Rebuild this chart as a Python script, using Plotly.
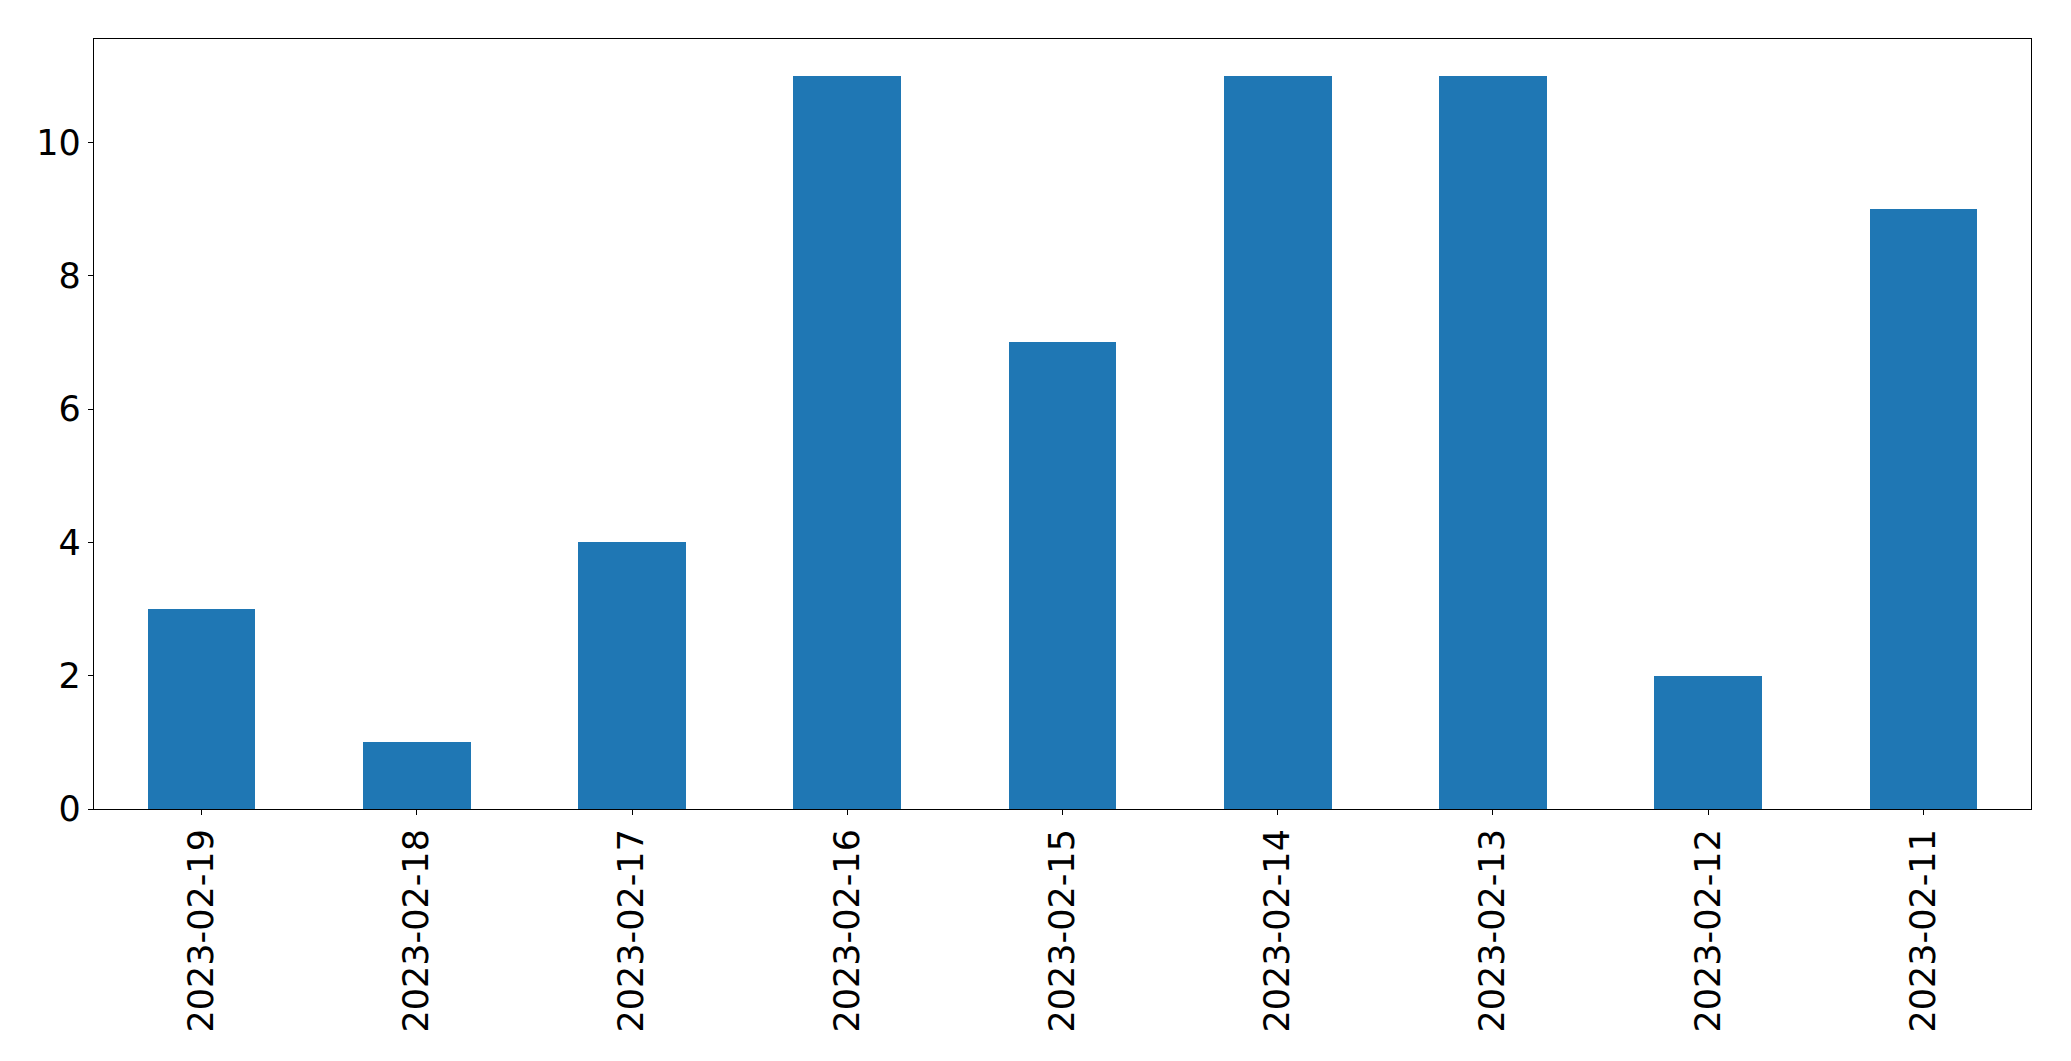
import plotly.graph_objects as go

dates = ["2023-02-19", "2023-02-18", "2023-02-17", "2023-02-16", "2023-02-15",
         "2023-02-14", "2023-02-13", "2023-02-12", "2023-02-11"]
counts = [3, 1, 4, 11, 7, 11, 11, 2, 9]
y_ticks = [0, 2, 4, 6, 8, 10]

fig = go.Figure()
fig.add_trace(go.Bar(
    x=list(range(len(dates))), y=counts, width=0.5,
    marker=dict(color="#1f77b4", line=dict(width=0)),
))

axis_common = dict(
    showline=True, linecolor="black", linewidth=1.2, mirror=True,
    ticks="outside", ticklen=5, tickwidth=1.2, tickcolor="black",
    showgrid=False, zeroline=False,
    tickfont=dict(family="DejaVu Sans", size=35, color="black"),
)

fig.update_layout(
    width=2055, height=1045,
    margin=dict(l=86, r=32, t=31, b=244),
    plot_bgcolor="white", paper_bgcolor="white",
    showlegend=False, bargap=0,
    xaxis=dict(range=[-0.5, len(dates) - 0.5], tickmode="array",
               tickvals=list(range(len(dates))), ticktext=dates,
               tickangle=-90, **axis_common),
    yaxis=dict(range=[0, 11.55], tickmode="array", tickvals=y_ticks,
               ticktext=[str(v) for v in y_ticks], **axis_common),
)

fig.write_html("out.html")
